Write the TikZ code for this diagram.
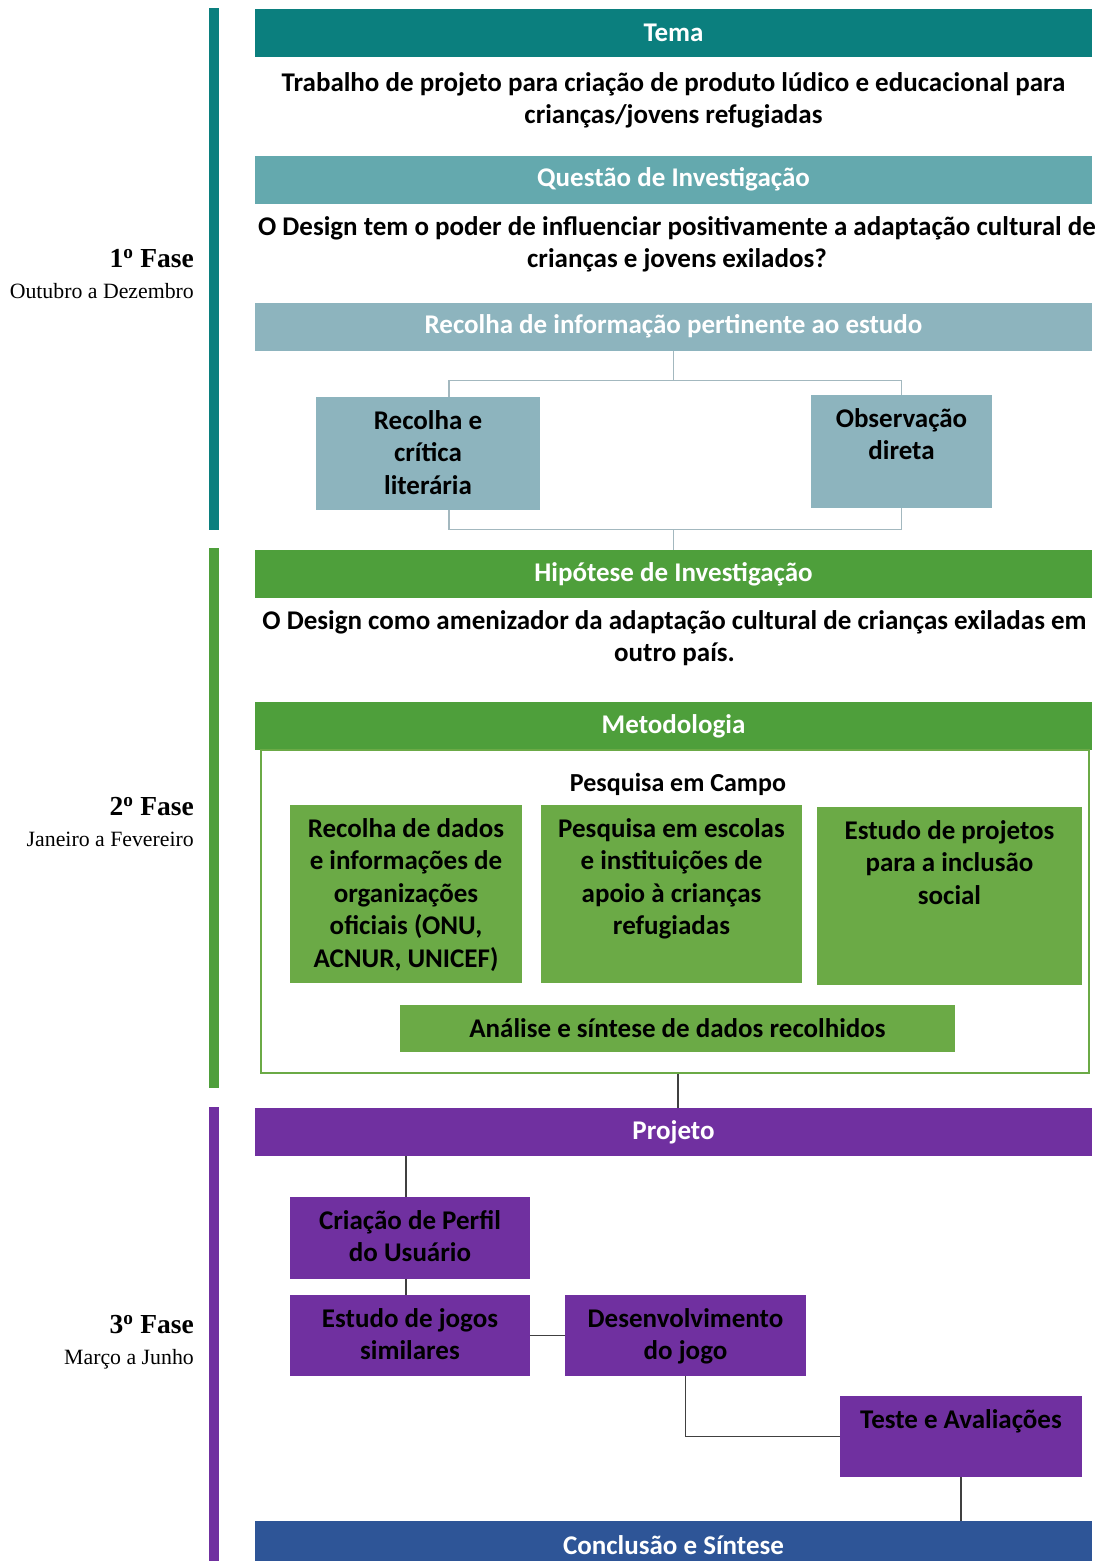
\documentclass[tikz,border=0pt]{standalone}
\usepackage{fontspec}
\setmainfont{Carlito}
\newfontfamily\serifa{Liberation Serif}
\usepackage{tikz}
\usepackage{xcolor}

\definecolor{corTema}{HTML}{0B7F7E}
\definecolor{corQuestao}{HTML}{64A9AE}
\definecolor{corRecolha}{HTML}{8DB4BE}
\definecolor{corVerdeH}{HTML}{4E9F3B}
\definecolor{corVerde}{HTML}{6BAA46}
\definecolor{corRoxo}{HTML}{7030A0}
\definecolor{corAzul}{HTML}{2E5597}
\definecolor{corLiga}{HTML}{A3B8BF}

% caixa com o texto alinhado em cima
\newcommand{\bloco}[3]{\parbox[c][#2pt][t]{#1pt}{\centering\rule{0pt}{32pt}#3}}

\begin{document}
\begin{tikzpicture}[x=1pt,y=-1pt]
  \useasboundingbox (0,0) rectangle (1102,1561);

  % barras das fases
  \fill[corTema]   (209,8)    rectangle (219,530);
  \fill[corVerdeH] (209,548)  rectangle (219,1088);
  \fill[corRoxo]   (209,1107) rectangle (219,1570);

  \begin{scope}[fase style/.style={align=right,
                                   anchor=east,
                                   inner sep=0pt,
                                   font=\serifa\fontsize{21.8}{31}\selectfont}]
    \node[fase style] (fase1) at (194,274) {{\fontsize{27.5}{31}\selectfont\bfseries 1\textsuperscript{o} Fase}\\Outubro a Dezembro};
    \node[fase style] (fase2) at (194,822) {{\fontsize{27.5}{31}\selectfont\bfseries 2\textsuperscript{o} Fase}\\Janeiro a Fevereiro};
    \node[fase style] (fase3) at (194,1342) {{\fontsize{27.5}{31}\selectfont\bfseries 3\textsuperscript{o} Fase}\\Março a Junho};
  \end{scope}

  \begin{scope}[header style/.style={rectangle,
                                     minimum width=837pt,
                                     minimum height=48pt,
                                     inner sep=0pt,
                                     text=white,
                                     font=\bfseries\fontsize{27}{32}\selectfont}]
    \foreach \nome/\y/\cor/\txt in {temaH/33/corTema/Tema,
                                    questaoH/179.5/corQuestao/Questão de Investigação,
                                    recolhaH/326.5/corRecolha/Recolha de informação pertinente ao estudo,
                                    hipoteseH/574/corVerdeH/Hipótese de Investigação,
                                    metodoH/726/corVerdeH/Metodologia,
                                    projetoH/1132/corRoxo/Projeto,
                                    conclusaoH/1545/corAzul/Conclusão e Síntese}
      \node[header style, fill=\cor] (\nome) at (673.5,\y) {\txt};
  \end{scope}

  \begin{scope}[texto style/.style={align=center,
                                    inner sep=0pt,
                                    font=\bfseries\fontsize{27}{32}\selectfont}]
    \node[texto style] (temaT) at (673.5,100.5) {Trabalho de projeto para criação de produto lúdico e educacional para\\crianças/jovens refugiadas};
    \node[texto style] (questaoT) at (677,244) {O Design tem o poder de influenciar positivamente a adaptação cultural de\\crianças e jovens exilados?};
    \node[texto style] (hipoteseT) at (674.5,638.5) {O Design como amenizador da adaptação cultural de crianças exiladas em\\outro país.};
    \node[texto style] (campoT) at (678,784) {\fontsize{26}{30}\selectfont Pesquisa em Campo};
  \end{scope}

  \node[draw=corVerde, line width=1.2pt, minimum width=828pt, minimum height=323pt, inner sep=0pt] (quadro) at (675,911.5) {};

  \begin{scope}[box style/.style={rectangle,
                                  anchor=north,
                                  inner sep=0pt,
                                  font=\bfseries\fontsize{27}{32.5}\selectfont}]
    \node[box style, fill=corRecolha] (critica) at (428,397) {\bloco{224}{113}{Recolha e\\crítica\\literária}};
    \node[box style, fill=corRecolha] (observa) at (901.5,395) {\bloco{181}{113}{Observação\\direta}};

    \node[box style, fill=corVerde] (dados) at (406,805) {\bloco{232}{178}{Recolha de dados\\e informações de\\organizações\\oficiais (ONU,\\ACNUR, UNICEF)}};
    \node[box style, fill=corVerde] (escolas) at (671.5,805) {\bloco{261}{178}{Pesquisa em escolas\\e instituições de\\apoio à crianças\\refugiadas}};
    \node[box style, fill=corVerde] (inclusao) at (949.5,807) {\bloco{265}{178}{Estudo de projetos\\para a inclusão\\social}};
    \node[box style, fill=corVerde] (analise) at (677.5,1005) {\bloco{555}{47}{Análise e síntese de dados recolhidos}};

    \node[box style, fill=corRoxo] (perfil) at (410,1197) {\bloco{240}{82}{Criação de Perfil\\do Usuário}};
    \node[box style, fill=corRoxo] (similares) at (410,1295) {\bloco{240}{81}{Estudo de jogos\\similares}};
    \node[box style, fill=corRoxo] (jogo) at (685.5,1295) {\bloco{241}{81}{Desenvolvimento\\do jogo}};
    \node[box style, fill=corRoxo] (teste) at (961,1396) {\bloco{242}{81}{Teste e Avaliações}};
  \end{scope}

  \begin{scope}[liga style/.style={draw=corLiga, line width=1.2pt}]
    \draw[liga style] (recolhaH.south) -- ++(0,30) coordinate (r1);
    \draw[liga style] ([xshift=21pt]critica.north) |- (r1) -| (observa.north);
    \draw[liga style] ([xshift=21pt]critica.south) -- ++(0,19) -| (observa.south);
    \draw[liga style] (hipoteseH.north) -- ++(0,-21);
  \end{scope}

  \begin{scope}[liga style/.style={draw=black!75, line width=1.2pt}]
    \draw[liga style] ([xshift=3pt]quadro.south) -- ([xshift=3pt]quadro.south |- projetoH.north);
    \draw[liga style] ([xshift=-4pt]perfil.north) -- ([xshift=-4pt]perfil.north |- projetoH.south);
    \draw[liga style] ([xshift=-4pt]perfil.south) -- ([xshift=-4pt]similares.north);
    \draw[liga style] (similares.east) -- (jogo.west);
    \draw[liga style] (jogo.south) |- (teste.west);
    \draw[liga style] (teste.south) -- (teste.south |- conclusaoH.north);
  \end{scope}

\end{tikzpicture}
\end{document}
